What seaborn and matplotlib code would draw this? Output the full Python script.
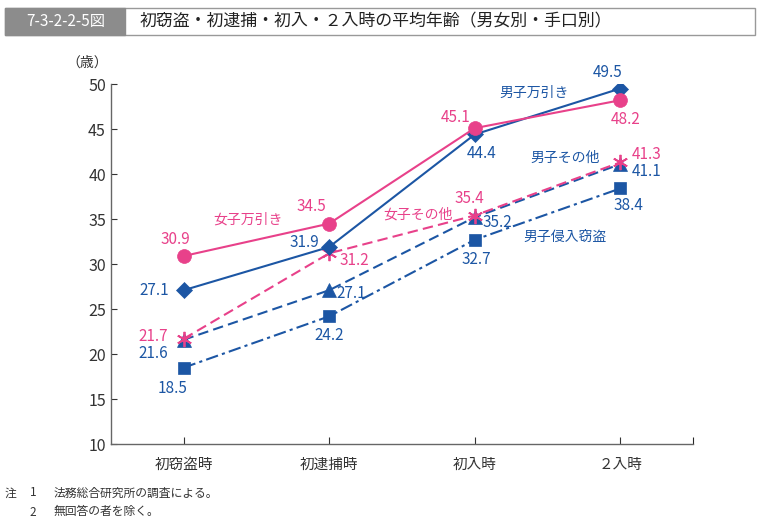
import numpy as np
import pandas as pd
import matplotlib
matplotlib.use("Agg")
import matplotlib.pyplot as plt
import seaborn as sns
from matplotlib.patches import Rectangle

# データ
categories = ["初窃盗時", "初逮捕時", "初入時", "２入時"]
male_shoplift = [27.1, 31.9, 44.4, 49.5]
female_shoplift = [30.9, 34.5, 45.1, 48.2]
male_other = [21.6, 27.1, 35.2, 41.1]
female_other = [21.7, 31.2, 35.4, 41.3]
male_burglary = [18.5, 24.2, 32.7, 38.4]
series_names = ["男子万引き", "女子万引き", "男子その他", "女子その他", "男子侵入窃盗"]

blue = "#1c56a4"
pink = "#e8418a"

sns.set_theme(style="white")
plt.rcParams["font.family"] = ["Noto Sans CJK JP", "DejaVu Sans"]

rows = []
for name, vals in zip(series_names, [male_shoplift, female_shoplift, male_other, female_other, male_burglary]):
    for i, v in enumerate(vals):
        rows.append({"系列": name, "x": i, "年齢": v})
df = pd.DataFrame(rows)

fig = plt.figure(figsize=(7.59, 5.22), dpi=100)
ax = fig.add_axes([0.146, 0.149, 0.767, 0.690])

styles = {
    "男子万引き": dict(color=blue, marker="D", ms=8, dashes=None),
    "女子万引き": dict(color=pink, marker="o", ms=10, dashes=None),
    "男子その他": dict(color=blue, marker="^", ms=10, dashes=(5, 2.5)),
    "女子その他": dict(color=pink, marker=(6, 2, 0), ms=11, dashes=(5, 2.5)),
    "男子侵入窃盗": dict(color=blue, marker="s", ms=9, dashes=(6, 2, 1.5, 2)),
}
# 描く順番（下から）
for name in ["男子侵入窃盗", "男子その他", "女子その他", "男子万引き", "女子万引き"]:
    st = styles[name]
    sub = df[df["系列"] == name]
    star = isinstance(st["marker"], tuple)
    sns.lineplot(data=sub, x="x", y="年齢", ax=ax, color=st["color"], lw=1.5,
                 marker=st["marker"], markersize=st["ms"], markeredgecolor=st["color"],
                 markeredgewidth=1.3 if star else 0.5, legend=False)
    line = ax.get_lines()[-1]
    if st["dashes"] is not None:
        line.set_dashes(st["dashes"])

# 数値ラベル（オフセットはポイント単位）
offsets = {
    "男子万引き": [(-21, 0), (-18, 3.5), (5, -13.5), (-9, 11.5)],
    "女子万引き": [(-6, 12), (-13, 12), (-14, 8), (4, -14)],
    "男子その他": [(-22, -10), (16, -2), (16.5, -3.5), (19, -5)],
    "女子その他": [(-22, 2), (18, -5), (-4, 12.5), (19, 6)],
    "男子侵入窃盗": [(-8, -15), (0, -14), (1, -14.5), (6, -12)],
}
for name, vals in zip(series_names, [male_shoplift, female_shoplift, male_other, female_other, male_burglary]):
    for i, v in enumerate(vals):
        dx, dy = offsets[name][i]
        ax.annotate(f"{v:.1f}", (i, v), xytext=(dx, dy), textcoords="offset points",
                    ha="center", va="center", fontsize=11, color=styles[name]["color"])

# 系列名
series_label_pos = {
    "男子万引き": (2.41, 49.0),
    "女子万引き": (0.44, 35.0),
    "男子その他": (2.62, 41.8),
    "女子その他": (1.61, 35.5),
    "男子侵入窃盗": (2.62, 33.0),
}
for name, (lx, ly) in series_label_pos.items():
    ax.text(lx, ly, name, ha="center", va="center", fontsize=10, color=styles[name]["color"])

ax.set_xlim(-0.5, 3.5)
ax.set_ylim(10, 50)
ax.set_xticks(range(len(categories)))
ax.set_xticks([3.5], minor=True)
ax.set_xticklabels(categories, fontsize=10.5, color="#333333")
ax.set_yticks(np.arange(10, 51, 5))
ax.tick_params(axis="y", labelsize=11.5, colors="#333333", direction="in", length=4, left=True, width=0.8)
ax.tick_params(axis="x", which="both", direction="in", length=5, bottom=True, width=0.8, pad=10)
ax.tick_params(axis="x", colors="#333333")
for side in ["top", "right"]:
    ax.spines[side].set_visible(False)
for side in ["left", "bottom"]:
    ax.spines[side].set_color("#666666")
    ax.spines[side].set_linewidth(1.0)
ax.set_xlabel("")
ax.set_ylabel("")
ax.text(-0.04, 1.06, "（歳）", transform=ax.transAxes, ha="center", va="center", fontsize=10, color="#333333")

# タイトルバー
fig.patches.append(Rectangle((5 / 759, 1 - 35 / 522), 750 / 759, 27 / 522, transform=fig.transFigure,
                             facecolor="white", edgecolor="#999999", lw=1.0))
fig.patches.append(Rectangle((5 / 759, 1 - 35 / 522), 120 / 759, 27 / 522, transform=fig.transFigure,
                             facecolor="#8c8c8c", edgecolor="#8c8c8c", lw=1.0))
fig.text(66 / 759, 1 - 21.5 / 522, "7-3-2-2-5図", ha="center", va="center", fontsize=11,
         color="white", fontstretch="condensed")
fig.text(140 / 759, 1 - 21.5 / 522, "初窃盗・初逮捕・初入・２入時の平均年齢（男女別・手口別）",
         ha="left", va="center", fontsize=12.2, color="#222222")

# 注
fig.text(5 / 759, 1 - 493 / 522, "注", ha="left", va="center", fontsize=8.5, color="#333333")
fig.text(33 / 759, 1 - 493 / 522, "1", ha="center", va="center", fontsize=8.5, color="#333333")
fig.text(54 / 759, 1 - 493 / 522, "法務総合研究所の調査による。", ha="left", va="center", fontsize=8.5, color="#333333")
fig.text(33 / 759, 1 - 512 / 522, "2", ha="center", va="center", fontsize=8.5, color="#333333")
fig.text(54 / 759, 1 - 512 / 522, "無回答の者を除く。", ha="left", va="center", fontsize=8.5, color="#333333")

fig.savefig("out.png", dpi=100, facecolor="white")
plt.close(fig)
